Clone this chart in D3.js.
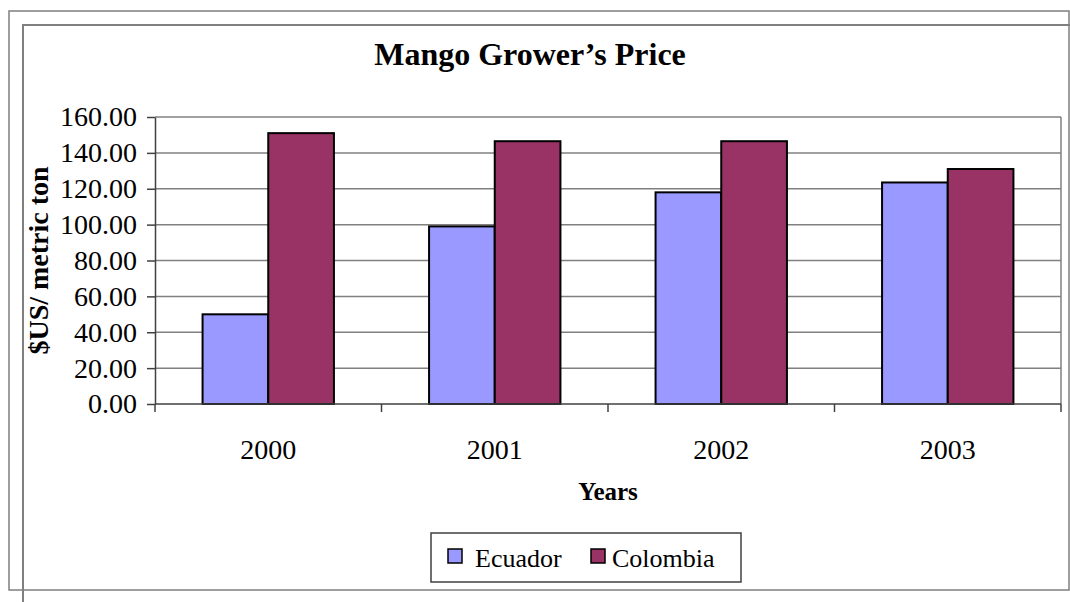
<!DOCTYPE html>
<html>
<head>
<meta charset="utf-8">
<script src="https://cdn.jsdelivr.net/npm/d3@7"></script>
<style>
  body { margin: 0; background: #fff; }
  svg { display: block; font-family: "Liberation Serif", "Times New Roman", serif; }
</style>
</head>
<body>
<div id="dv"></div>
<script>
var years = ["2000", "2001", "2002", "2003"];
var series = ["Ecuador", "Colombia"];
var ecuador = [50, 99, 118, 123.5];
var colombia = [151, 146.5, 146.5, 131];
var yTicks = [0, 20, 40, 60, 80, 100, 120, 140, 160];

var colors = { Ecuador: "#9999ff", Colombia: "#993366" };

var width = 1070;
var height = 602;
var plotLeft = 155, plotRight = 1061, plotTop = 117, plotBottom = 404;

var svg = d3.select("div#dv")
  .append("svg")
  .attr("width", width)
  .attr("height", height);

// outer frames
svg.append("rect")
  .attr("x", 9).attr("y", 11)
  .attr("width", 1060).attr("height", 579)
  .attr("fill", "none").attr("stroke", "#7f7f7f").attr("stroke-width", 1.5);
svg.append("path")
  .attr("d", "M23,602V25H1070")
  .attr("fill", "none").attr("stroke", "#7f7f7f").attr("stroke-width", 2);

var x0 = d3.scaleBand().domain(years).range([plotLeft, plotRight]).paddingInner(0.42).paddingOuter(0.21);
var x1 = d3.scaleBand().domain(series).range([0, x0.bandwidth()]);
var y = d3.scaleLinear().domain([0, 160]).range([plotBottom, plotTop]);
var xEdge = d3.scaleLinear().domain([0, years.length]).range([plotLeft, plotRight]);

// gridlines
svg.append("g")
  .selectAll("line")
  .data(yTicks.filter(function(d) { return d > 0; }))
  .enter()
  .append("line")
  .attr("x1", plotLeft).attr("x2", plotRight)
  .attr("y1", function(d) { return y(d); })
  .attr("y2", function(d) { return y(d); })
  .attr("stroke", "#808080").attr("stroke-width", 1.5);

svg.append("line")
  .attr("x1", plotRight).attr("x2", plotRight)
  .attr("y1", plotTop).attr("y2", plotBottom)
  .attr("stroke", "#808080").attr("stroke-width", 1.5);

// bars
var rows = years.map(function(yr, i) {
  return { year: yr, values: [{ key: "Ecuador", v: ecuador[i] }, { key: "Colombia", v: colombia[i] }] };
});

svg.append("g")
  .selectAll("g")
  .data(rows)
  .enter()
  .append("g")
  .attr("transform", function(d) { return "translate(" + x0(d.year) + ",0)"; })
  .selectAll("rect")
  .data(function(d) { return d.values; })
  .enter()
  .append("rect")
  .attr("x", function(d) { return x1(d.key); })
  .attr("y", function(d) { return y(d.v); })
  .attr("width", x1.bandwidth())
  .attr("height", function(d) { return plotBottom - y(d.v); })
  .attr("fill", function(d) { return colors[d.key]; })
  .attr("stroke", "#000")
  .attr("stroke-width", 2);

// y axis
var yAxis = svg.append("g")
  .attr("transform", "translate(" + plotLeft + ",0)")
  .call(d3.axisLeft(y).tickValues(yTicks).tickFormat(d3.format(".2f")).tickSize(8).tickSizeOuter(0).tickPadding(10));
yAxis.selectAll("text").style("font-size", "28px").attr("fill", "#000").style("font-family", "Liberation Serif");
yAxis.selectAll("line, path").attr("stroke", "#404040").attr("stroke-width", 1.5);

// x axis
svg.append("line")
  .attr("x1", plotLeft).attr("x2", plotRight)
  .attr("y1", plotBottom).attr("y2", plotBottom)
  .attr("stroke", "#404040").attr("stroke-width", 1.5);
svg.append("g")
  .selectAll("line")
  .data(d3.range(years.length + 1))
  .enter()
  .append("line")
  .attr("x1", function(d) { return xEdge(d); })
  .attr("x2", function(d) { return xEdge(d); })
  .attr("y1", plotBottom).attr("y2", plotBottom + 8)
  .attr("stroke", "#404040").attr("stroke-width", 1.5);

svg.append("g")
  .selectAll("text")
  .data(years)
  .enter()
  .append("text")
  .attr("x", function(d) { return x0(d) + x0.bandwidth() / 2; })
  .attr("y", 459)
  .attr("text-anchor", "middle")
  .style("font-size", "28px")
  .text(function(d) { return d; });

// titles
svg.append("text")
  .attr("x", 530).attr("y", 65)
  .attr("text-anchor", "middle")
  .style("font-size", "32px").style("font-weight", "bold")
  .text("Mango Grower\u2019s Price");

svg.append("text")
  .attr("transform", "translate(48," + ((plotTop + plotBottom) / 2) + ") rotate(-90)")
  .attr("text-anchor", "middle")
  .style("font-size", "28px").style("font-weight", "bold")
  .text("$US/ metric ton");

svg.append("text")
  .attr("x", (plotLeft + plotRight) / 2).attr("y", 500)
  .attr("text-anchor", "middle")
  .style("font-size", "25px").style("font-weight", "bold")
  .text("Years");

// legend
var legend = svg.append("g");
legend.append("rect")
  .attr("x", 431).attr("y", 533)
  .attr("width", 310).attr("height", 49)
  .attr("fill", "#fff").attr("stroke", "#404040").attr("stroke-width", 1.5);

var legendX = [448, 591];
var item = legend.selectAll("g.item")
  .data(series)
  .enter()
  .append("g")
  .attr("class", "item")
  .attr("transform", function(d, i) { return "translate(" + legendX[i] + ",549)"; });
item.append("rect")
  .attr("width", 14).attr("height", 14)
  .attr("fill", function(d) { return colors[d]; })
  .attr("stroke", "#000").attr("stroke-width", 1.5);
item.append("text")
  .attr("x", function(d, i) { return i === 0 ? 27 : 21; })
  .attr("y", 18)
  .style("font-size", "26px")
  .text(function(d) { return d; });
</script>
</body>
</html>
